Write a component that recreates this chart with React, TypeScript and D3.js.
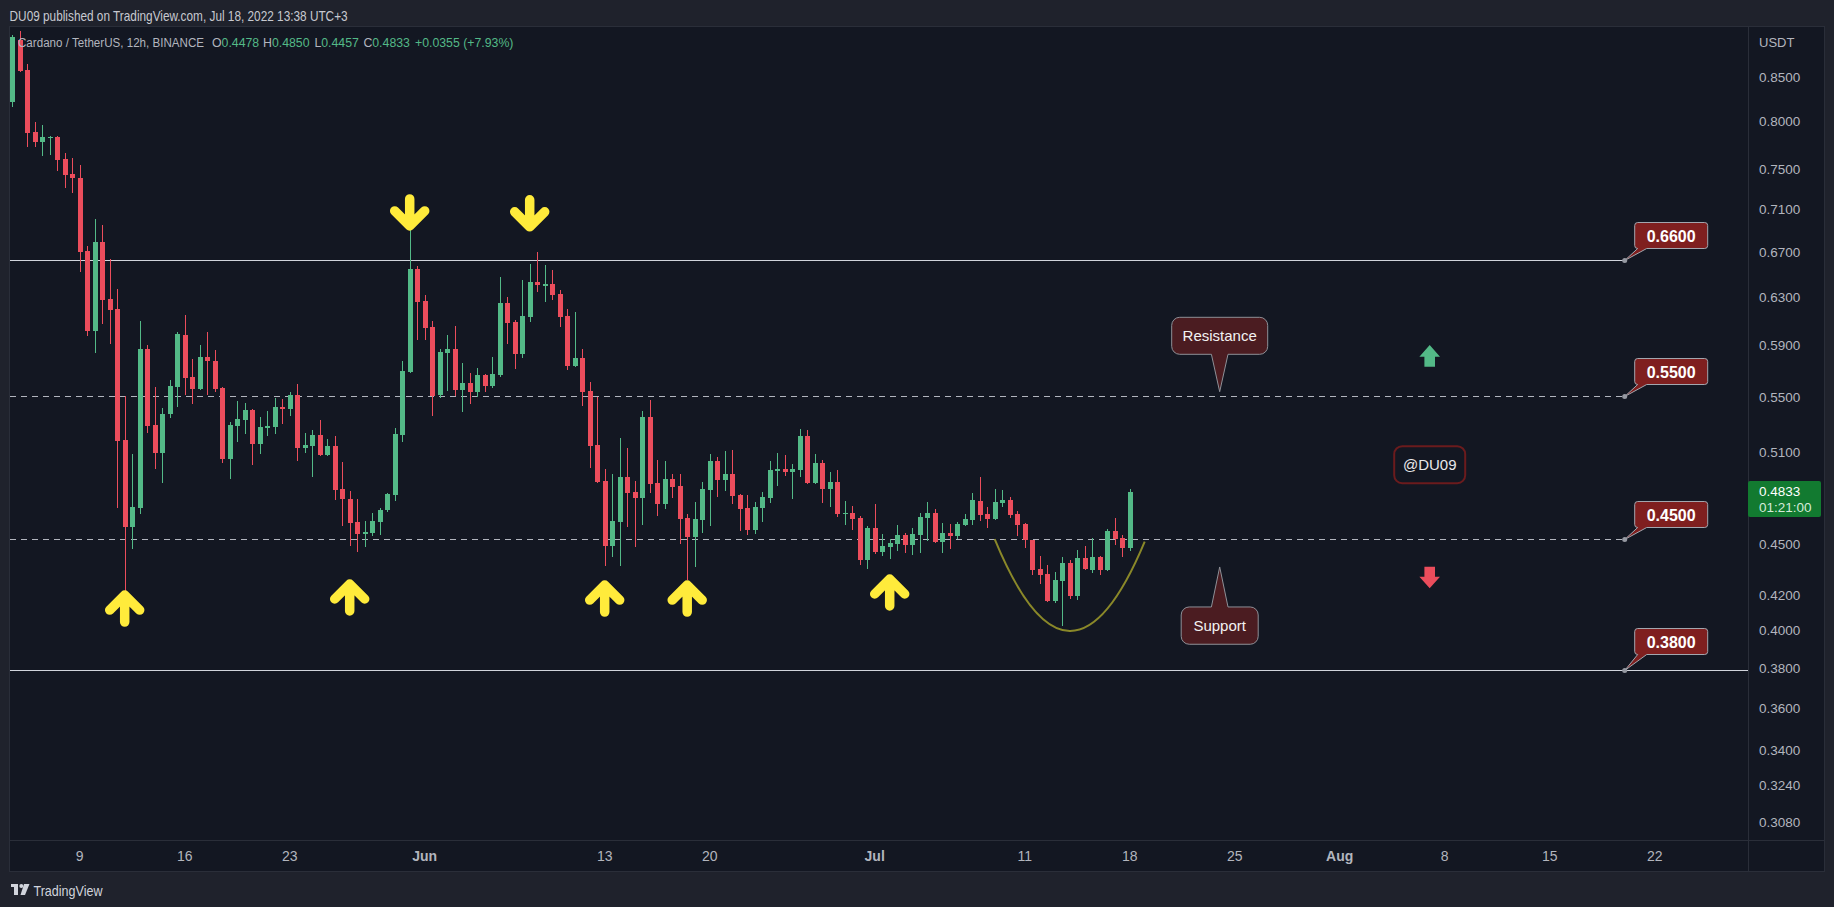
import React, { useEffect } from "react";
import * as d3 from "d3";

// ---------- data (ADA/USDT 12h, Binance) ----------
const firstCandleUtc = Date.UTC(2022, 4, 4, 12);
const barMs = 12 * 3600 * 1000;

const opens = [
  0.8224, 0.8939, 0.8583, 0.7889, 0.7787, 0.7827, 0.7836, 0.7606, 0.7453, 0.741,
  0.6708, 0.6016, 0.6793, 0.6284, 0.6201, 0.5186, 0.461, 0.4729, 0.5871, 0.5296,
  0.5097, 0.5374, 0.5579, 0.5985, 0.565, 0.5564, 0.5806, 0.5776, 0.557, 0.5058,
  0.529, 0.5332, 0.5404, 0.5161, 0.5276, 0.5282, 0.5427, 0.5413, 0.5516, 0.5133,
  0.5145, 0.5224, 0.5083, 0.5145, 0.4853, 0.4786, 0.464, 0.4566, 0.4571, 0.464,
  0.4716, 0.4813, 0.5224, 0.569, 0.6548, 0.6268, 0.6051, 0.5516, 0.5843, 0.5872,
  0.5554, 0.5606, 0.5538, 0.5667, 0.5584, 0.5667, 0.6252, 0.6092, 0.5832, 0.6133,
  0.6433, 0.6401, 0.6416, 0.6329, 0.6142, 0.5737, 0.58, 0.5546, 0.5152, 0.4905,
  0.449, 0.464, 0.4932, 0.4833, 0.4793, 0.5353, 0.4892, 0.4754, 0.4919, 0.4872,
  0.4665, 0.4545, 0.4652, 0.4846, 0.5041, 0.4912, 0.4952, 0.4813, 0.4729, 0.459,
  0.4729, 0.4793, 0.4973, 0.4987, 0.4966, 0.498, 0.5216, 0.4892, 0.5028, 0.4853,
  0.4899, 0.469, 0.4697, 0.4665, 0.4405, 0.4602, 0.4454, 0.4484, 0.4503, 0.4558,
  0.4497, 0.4558, 0.4665, 0.4697, 0.4515, 0.4571, 0.4552, 0.4621, 0.4652, 0.4774,
  0.469, 0.4658, 0.476, 0.478, 0.469, 0.4627, 0.4527, 0.4351, 0.4322, 0.4166,
  0.4281, 0.4387, 0.4195, 0.4417, 0.4346, 0.4423, 0.4346, 0.4584, 0.4539, 0.4478,
];
const highs = [
  0.9, 0.9057, 0.8655, 0.8001, 0.7963, 0.7848, 0.7848, 0.7666, 0.7614, 0.7539,
  0.6754, 0.7008, 0.695, 0.6635, 0.6371, 0.5507, 0.5092, 0.6101, 0.5905, 0.5579,
  0.5421, 0.5628, 0.6007, 0.6149, 0.5791, 0.5905, 0.6007, 0.5865, 0.5575, 0.5318,
  0.5469, 0.5455, 0.541, 0.5349, 0.5393, 0.5492, 0.5486, 0.5541, 0.5599, 0.5236,
  0.5259, 0.5331, 0.5192, 0.5216, 0.5034, 0.4839, 0.4785, 0.4646, 0.4695, 0.4727,
  0.4828, 0.5274, 0.5776, 0.6905, 0.6575, 0.632, 0.61, 0.5872, 0.5985, 0.6059,
  0.5761, 0.5682, 0.5722, 0.5674, 0.5808, 0.6477, 0.6303, 0.6108, 0.645, 0.6592,
  0.6701, 0.6584, 0.6539, 0.6363, 0.6201, 0.6176, 0.5872, 0.5614, 0.5501, 0.4987,
  0.4952, 0.5201, 0.5131, 0.4905, 0.5397, 0.5478, 0.5048, 0.5041, 0.4952, 0.4952,
  0.469, 0.4767, 0.4899, 0.509, 0.5069, 0.5111, 0.5118, 0.482, 0.4813, 0.4767,
  0.4833, 0.5041, 0.5097, 0.5083, 0.5021, 0.5267, 0.5259, 0.509, 0.5048, 0.4966,
  0.498, 0.4774, 0.4741, 0.4677, 0.4614, 0.4754, 0.4565, 0.4533, 0.4621, 0.4571,
  0.4602, 0.4697, 0.4767, 0.4722, 0.4633, 0.4627, 0.464, 0.469, 0.4826, 0.4932,
  0.4735, 0.4853, 0.4846, 0.48, 0.4709, 0.4633, 0.453, 0.4429, 0.4375, 0.4334,
  0.4423, 0.4405, 0.4466, 0.449, 0.4539, 0.4429, 0.4596, 0.4665, 0.4558, 0.485,
];
const lows = [
  0.8159, 0.8565, 0.7726, 0.7726, 0.7634, 0.7646, 0.7477, 0.7315, 0.7266, 0.6523,
  0.5978, 0.5837, 0.6079, 0.5914, 0.4729, 0.422, 0.4475, 0.4692, 0.524, 0.4987,
  0.4894, 0.5345, 0.5427, 0.5515, 0.5449, 0.5555, 0.5515, 0.5541, 0.5026, 0.4922,
  0.5175, 0.5227, 0.5013, 0.5092, 0.5219, 0.5227, 0.5301, 0.5357, 0.5041, 0.5098,
  0.4934, 0.5076, 0.5076, 0.478, 0.4614, 0.449, 0.4456, 0.4486, 0.4554, 0.4558,
  0.4705, 0.4774, 0.5173, 0.5685, 0.5944, 0.5944, 0.536, 0.5493, 0.5546, 0.5508,
  0.539, 0.5449, 0.5501, 0.5538, 0.5569, 0.5652, 0.5912, 0.5714, 0.58, 0.6092,
  0.6346, 0.626, 0.6277, 0.6051, 0.5706, 0.5729, 0.5434, 0.4994, 0.4892, 0.4369,
  0.4423, 0.4369, 0.4608, 0.4484, 0.4621, 0.4826, 0.4677, 0.4722, 0.4793, 0.4503,
  0.4287, 0.4363, 0.4571, 0.4614, 0.48, 0.4839, 0.4754, 0.4584, 0.4558, 0.4565,
  0.464, 0.476, 0.4872, 0.4939, 0.4786, 0.4932, 0.4886, 0.4886, 0.476, 0.4735,
  0.4671, 0.4621, 0.459, 0.4375, 0.4351, 0.4442, 0.4429, 0.4411, 0.446, 0.4448,
  0.4436, 0.4448, 0.4521, 0.4509, 0.4448, 0.4472, 0.4533, 0.4614, 0.4621, 0.4646,
  0.4602, 0.4652, 0.4735, 0.4665, 0.4552, 0.4478, 0.4316, 0.4264, 0.416, 0.4155,
  0.4027, 0.4178, 0.4172, 0.4346, 0.4328, 0.4316, 0.434, 0.4497, 0.4423, 0.4457,
];
const closes = [
  0.8985, 0.8574, 0.7881, 0.7787, 0.7836, 0.7836, 0.7598, 0.7446, 0.7406, 0.6705,
  0.6016, 0.6793, 0.6279, 0.6195, 0.5183, 0.461, 0.4734, 0.5871, 0.529, 0.5097,
  0.5374, 0.5587, 0.5992, 0.5645, 0.5564, 0.5806, 0.5776, 0.5564, 0.5058, 0.5296,
  0.5337, 0.5404, 0.5161, 0.5282, 0.5287, 0.5427, 0.541, 0.5515, 0.5133, 0.5152,
  0.5224, 0.5083, 0.5145, 0.4846, 0.4786, 0.4635, 0.4566, 0.4577, 0.4646, 0.4716,
  0.482, 0.523, 0.5698, 0.6548, 0.626, 0.6042, 0.5508, 0.5848, 0.5872, 0.5554,
  0.5606, 0.5538, 0.5667, 0.5584, 0.5674, 0.6252, 0.6083, 0.5832, 0.6142, 0.6433,
  0.6407, 0.6416, 0.632, 0.6133, 0.5737, 0.58, 0.554, 0.5145, 0.4899, 0.449,
  0.4646, 0.4932, 0.4826, 0.4793, 0.5353, 0.4886, 0.4754, 0.4919, 0.4866, 0.4658,
  0.4545, 0.4658, 0.4853, 0.5041, 0.4912, 0.4952, 0.4806, 0.4722, 0.459, 0.4735,
  0.48, 0.498, 0.4987, 0.4966, 0.4987, 0.5216, 0.4892, 0.5028, 0.4853, 0.4899,
  0.469, 0.4697, 0.4658, 0.4405, 0.4602, 0.4454, 0.449, 0.4509, 0.4558, 0.4497,
  0.4565, 0.4671, 0.4697, 0.4515, 0.4571, 0.4552, 0.4627, 0.4658, 0.478, 0.4684,
  0.4658, 0.4767, 0.478, 0.4684, 0.4621, 0.4525, 0.4346, 0.4316, 0.4166, 0.4287,
  0.4387, 0.4195, 0.4417, 0.4351, 0.4423, 0.4346, 0.4584, 0.4533, 0.4478, 0.4833,
];

// price axis ticks
const priceTicks = [0.85, 0.8, 0.75, 0.71, 0.67, 0.63, 0.59, 0.55, 0.51, 0.45, 0.42, 0.4, 0.38, 0.36, 0.34, 0.324, 0.308];

// time axis ticks
const timeTickDates = [
  [2022, 4, 9], [2022, 4, 16], [2022, 4, 23], [2022, 5, 1], [2022, 5, 13], [2022, 5, 20],
  [2022, 6, 1], [2022, 6, 11], [2022, 6, 18], [2022, 6, 25], [2022, 7, 1], [2022, 7, 8],
  [2022, 7, 15], [2022, 7, 22],
];
const timeTickLabels = ["9", "16", "23", "Jun", "13", "20", "Jul", "11", "18", "25", "Aug", "8", "15", "22"];

// legend (OHLC of the last bar)
const legendKeys = ["O", "H", "L", "C"];
const legendValues = ["0.4478", "0.4850", "0.4457", "0.4833"];
const legendChange = "+0.0355 (+7.93%)";

// horizontal levels
const levelPrices = [0.6625, 0.5505, 0.4532, 0.3793];
const levelLabels = ["0.6600", "0.5500", "0.4500", "0.3800"];

// yellow arrows (candle index, tip price)
const upArrowBars = [15, 45, 79, 90, 117];
const upArrowTips = [0.42, 0.4264, 0.4258, 0.4258, 0.4293];
const downArrowBars = [53, 69];
const downArrowTips = [0.6943, 0.6934];

// cup curve anchors: start, bottom, end
const cupDates = [Date.UTC(2022, 6, 9), Date.UTC(2022, 6, 14), Date.UTC(2022, 6, 19)];
const cupPrices = [0.4532, 0.4, 0.4517];

// ---------- layout ----------
const W = 1834;
const H = 907;
const paneL = 10, paneT = 27, paneR = 1748, paneB = 840, axisR = 1824, axisB = 871;

const BG = "#1f222c";
const PANE = "#131722";
const UP = "#53b987";
const DOWN = "#eb4d5c";
const TXT = "#b2b5be";
const FONT = "'Liberation Sans', Arial, sans-serif";

const xs = d3.scaleUtc().domain([Date.UTC(2022, 4, 9), Date.UTC(2022, 6, 18)]).range([79.7, 1129.7]);
const ys = d3.scaleLog().domain([0.85, 0.308]).range([77.3, 822.9]);

function calloutPath(x0: number, y0: number, w: number, h: number, r: number, side: "top" | "bottom", bL: number, bR: number, tx: number, ty: number) {
  const p = d3.path();
  p.moveTo(x0 + r, y0);
  if (side === "top") {
    p.lineTo(bL, y0);
    p.lineTo(tx, ty);
    p.lineTo(bR, y0);
  }
  p.lineTo(x0 + w - r, y0);
  p.arcTo(x0 + w, y0, x0 + w, y0 + r, r);
  p.lineTo(x0 + w, y0 + h - r);
  p.arcTo(x0 + w, y0 + h, x0 + w - r, y0 + h, r);
  if (side === "bottom") {
    p.lineTo(bR, y0 + h);
    p.lineTo(tx, ty);
    p.lineTo(bL, y0 + h);
  }
  p.lineTo(x0 + r, y0 + h);
  p.arcTo(x0, y0 + h, x0, y0 + h - r, r);
  p.lineTo(x0, y0 + r);
  p.arcTo(x0, y0, x0 + r, y0, r);
  p.closePath();
  return p.toString();
}

// legend layout: start x of each key+value group
const legendX = [212, 263, 314.4, 363.4];

export default function App() {
  useEffect(() => {
    document.body.style.margin = "0";
    document.body.style.background = BG;
  }, []);

  const candles = opens.map((o, i) => ({
    t: new Date(firstCandleUtc + i * barMs),
    o,
    h: highs[i],
    l: lows[i],
    c: closes[i],
  }));
  const barX = (i: number) => xs(new Date(firstCandleUtc + i * barMs));

  const anchorX = xs(new Date(Date.UTC(2022, 7, 20)));
  const noteX = xs(new Date(Date.UTC(2022, 6, 24)));
  const sigX = xs(new Date(Date.UTC(2022, 7, 7)));

  const cupPts = cupDates.map((d, i) => [xs(new Date(d)), ys(cupPrices[i])]);
  const ctrl = [2 * cupPts[1][0] - (cupPts[0][0] + cupPts[2][0]) / 2, 2 * cupPts[1][1] - (cupPts[0][1] + cupPts[2][1]) / 2];
  const cupPath = `M${cupPts[0][0]},${cupPts[0][1]} Q${ctrl[0]},${ctrl[1]} ${cupPts[2][0]},${cupPts[2][1]}`;

  const resTipY = ys(0.554);
  const supTipY = ys(0.4364);
  const sigY = ys(0.5016);
  const gTip = ys(0.5904);
  const rTip = ys(0.4239);
  const lastY = ys(closes[closes.length - 1]);

  return (
    <svg width={W} height={H} style={{ display: "block", position: "absolute", left: 0, top: 0 }} fontFamily={FONT}>
      <defs>
        <clipPath id="pane">
          <rect x={paneL} y={paneT} width={paneR - paneL} height={paneB - paneT} />
        </clipPath>
      </defs>
      <rect x={0} y={0} width={W} height={H} fill={BG} />
      <rect x={paneL} y={paneT} width={axisR - paneL} height={axisB - paneT} fill={PANE} />
      <rect x={paneL - 0.5} y={paneT - 0.5} width={axisR - paneL + 1} height={axisB - paneT + 1} fill="none" stroke="#2a2e39" />
      <line x1={paneR + 0.5} x2={paneR + 0.5} y1={paneT} y2={axisB} stroke="#2a2e39" />
      <line x1={paneL} x2={axisR} y1={paneB + 0.5} y2={paneB + 0.5} stroke="#2a2e39" />

      <g clipPath="url(#pane)">
        {/* level lines */}
        {levelPrices.map((p, i) => {
          const y = Math.round(ys(p)) + 0.5;
          const dashed = i === 1 || i === 2;
          const x2 = i === 3 ? paneR : anchorX;
          return (
            <line key={"lv" + i} x1={paneL} x2={x2} y1={y} y2={y}
              stroke={dashed ? "#b2b5be" : "#d1d4dc"} strokeWidth={1}
              strokeDasharray={dashed ? "6 5" : undefined} />
          );
        })}

        {/* candles */}
        {candles.map((d, i) => {
          const cx = Math.round(barX(i));
          const col = d.c >= d.o ? UP : DOWN;
          const top = ys(Math.max(d.o, d.c));
          const bot = ys(Math.min(d.o, d.c));
          return (
            <g key={"c" + i} shapeRendering="crispEdges">
              <rect x={cx} y={ys(d.h)} width={1} height={ys(d.l) - ys(d.h)} fill={col} />
              <rect x={cx - 2} y={top} width={5} height={Math.max(1, bot - top)} fill={col} />
            </g>
          );
        })}

        {/* cup curve */}
        <path d={cupPath} fill="none" stroke="#8a8829" strokeWidth={2} />

        {/* yellow arrows */}
        {upArrowBars.map((b, i) => {
          const cx = barX(b);
          const ty = ys(upArrowTips[i]);
          return (
            <path key={"ua" + i} d={`M${cx - 15},${ty + 15} L${cx},${ty} L${cx + 15},${ty + 15} M${cx},${ty} L${cx},${ty + 27}`}
              fill="none" stroke="#ffeb3b" strokeWidth={9.5} strokeLinecap="round" strokeLinejoin="round" />
          );
        })}
        {downArrowBars.map((b, i) => {
          const cx = barX(b);
          const ty = ys(downArrowTips[i]);
          return (
            <path key={"da" + i} d={`M${cx - 15},${ty - 15} L${cx},${ty} L${cx + 15},${ty - 15} M${cx},${ty} L${cx},${ty - 27}`}
              fill="none" stroke="#ffeb3b" strokeWidth={9.5} strokeLinecap="round" strokeLinejoin="round" />
          );
        })}

        {/* small up / down arrows */}
        <polygon points={`${sigX},${gTip} ${sigX + 10.3},${gTip + 11.7} ${sigX + 5.3},${gTip + 11.7} ${sigX + 5.3},${gTip + 21.7} ${sigX - 5.3},${gTip + 21.7} ${sigX - 5.3},${gTip + 11.7} ${sigX - 10.3},${gTip + 11.7}`} fill={UP} />
        <polygon points={`${sigX},${rTip} ${sigX + 10.3},${rTip - 11.6} ${sigX + 5.3},${rTip - 11.6} ${sigX + 5.3},${rTip - 21.6} ${sigX - 5.3},${rTip - 21.6} ${sigX - 5.3},${rTip - 11.6} ${sigX - 10.3},${rTip - 11.6}`} fill={DOWN} />

        {/* @DU09 */}
        <rect x={sigX - 35.5} y={sigY - 18.5} width={71} height={37} rx={8} fill="none" stroke="#6b1b1d" strokeWidth={2} />
        <text x={sigX} y={sigY} textAnchor="middle" dominantBaseline="central" fill="#e8e8ea" fontSize={15}>@DU09</text>

        {/* Resistance / Support callouts */}
        <path d={calloutPath(noteX - 48, resTipY - 74.4, 96, 37, 8, "bottom", noteX - 8.3, noteX + 8.3, noteX, resTipY)} fill="#4b1c21" stroke="#8e9097" strokeWidth={1} />
        <text x={noteX} y={resTipY - 55.9} textAnchor="middle" dominantBaseline="central" fill="#f2f2f2" fontSize={15}>Resistance</text>
        <path d={calloutPath(noteX - 38.5, supTipY + 40, 77, 37.3, 8, "top", noteX - 8.3, noteX + 8.3, noteX, supTipY)} fill="#4b1c21" stroke="#8e9097" strokeWidth={1} />
        <text x={noteX} y={supTipY + 58.6} textAnchor="middle" dominantBaseline="central" fill="#f2f2f2" fontSize={15}>Support</text>

        {/* level callouts */}
        {levelPrices.map((p, i) => {
          const ly = Math.round(ys(p)) + 0.5;
          const x0 = anchorX + 10;
          const y0 = ly - (i === 3 ? 42 : 38);
          return (
            <g key={"lc" + i}>
              <path d={calloutPath(x0, y0, 73, 26, 3, "bottom", x0 + 3, x0 + 12, anchorX, ly)} fill="#7f1f1f" stroke="#a3a6ae" strokeWidth={1} />
              <circle cx={anchorX} cy={ly} r={2.5} fill="#9598a1" />
              <text x={x0 + 36.5} y={y0 + 13.5} textAnchor="middle" dominantBaseline="central" fill="#ffffff" fontSize={16} fontWeight="bold">{levelLabels[i]}</text>
            </g>
          );
        })}
      </g>

      {/* header texts */}
      <text x={9.6} y={20.5} fill="#c7c9d0" fontSize={15} textLength={338} lengthAdjust="spacingAndGlyphs">DU09 published on TradingView.com, Jul 18, 2022 13:38 UTC+3</text>
      <g fontSize={12.3} dominantBaseline="central">
        <text x={18} y={42.5} fill={TXT} textLength={186} lengthAdjust="spacingAndGlyphs">Cardano / TetherUS, 12h, BINANCE</text>
        {legendKeys.map((k, i) => (
          <text key={"lg" + i} x={legendX[i]} y={42.5}>
            <tspan fill={TXT}>{k}</tspan>
            <tspan fill={UP}>{legendValues[i]}</tspan>
          </text>
        ))}
        <text x={415} y={42.5} fill={UP}>{legendChange}</text>
      </g>

      {/* price axis */}
      <text x={1759} y={42} fill={TXT} fontSize={13} dominantBaseline="central">USDT</text>
      {priceTicks.map((p, i) => (
        <text key={"pt" + i} x={1759} y={ys(p)} fill={TXT} fontSize={13.5} dominantBaseline="central">{p.toFixed(4)}</text>
      ))}
      <rect x={1748} y={lastY - 11} width={73} height={36} rx={2} fill="#127a30" />
      <text x={1759} y={lastY} fill="#ffffff" fontSize={13.5} dominantBaseline="central">{closes[closes.length - 1].toFixed(4)}</text>
      <text x={1759} y={lastY + 16} fill="#d5ead9" fontSize={13.5} dominantBaseline="central">01:21:00</text>

      {/* time axis */}
      {timeTickDates.map((d, i) => {
        const lbl = timeTickLabels[i];
        const isMonth = isNaN(Number(lbl));
        return (
          <text key={"tt" + i} x={xs(new Date(Date.UTC(d[0], d[1], d[2])))} y={856} textAnchor="middle" dominantBaseline="central"
            fill={TXT} fontSize={14} fontWeight={isMonth ? "bold" : "normal"}>{lbl}</text>
        );
      })}

      {/* TradingView logo */}
      <g fill="#d1d4dc">
        <rect x={11} y={884} width={7} height={3} />
        <rect x={14} y={884} width={4} height={11} />
        <circle cx={21.3} cy={886} r={2} />
        <polygon points="24,884 29.5,884 25,895 20.5,895" />
        <text x={33.5} y={890} fontSize={15} dominantBaseline="central" textLength={69} lengthAdjust="spacingAndGlyphs">TradingView</text>
      </g>
    </svg>
  );
}
